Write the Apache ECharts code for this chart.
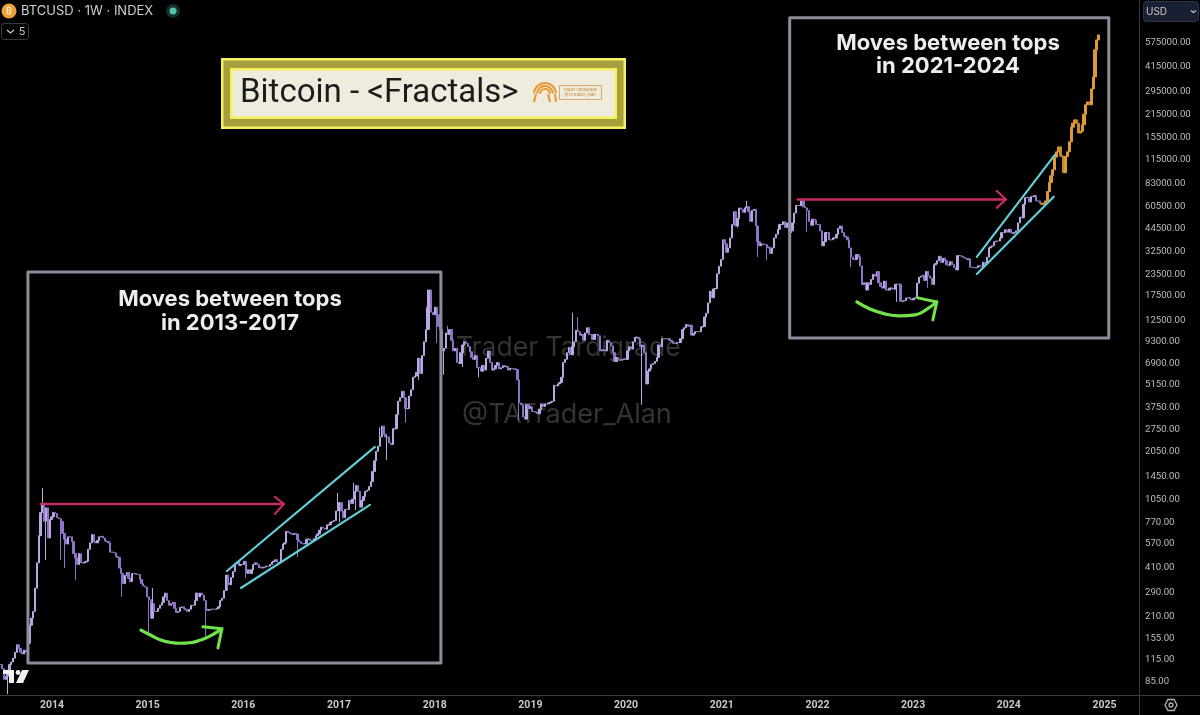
<!DOCTYPE html>
<html>
<head>
<meta charset="utf-8">
<title>BTCUSD fractals</title>
<style>
	html, body { margin: 0; padding: 0; background: #000; }
	#chart { width: 1200px; height: 715px; filter: blur(0.45px); }
</style>
<script src="https://cdn.jsdelivr.net/npm/echarts@6/dist/echarts.min.js"></script>
</head>
<body>
<div id="chart"></div>
<script>
const startYear = 2013.46;
const weekStep = 1 / 52.18;
const axisMinYear = 2013.457;
const axisMaxYear = 2025.366;

const yearTicks = [2014, 2015, 2016, 2017, 2018, 2019, 2020, 2021, 2022, 2023, 2024, 2025];
const priceTicks = [85, 115, 155, 210, 290, 410, 570, 770, 1050, 1450, 2050, 2750, 3750, 5150, 6900, 9300, 12500, 17500, 23500, 32500, 44500, 60500, 83000, 115000, 155000, 215000, 295000, 415000, 575000];

// weekly closes
const closes = [
	// 2013
	108, 102, 88, 92, 100, 108, 112, 118, 128, 142, 135, 128, 125, 132, 128, 145, 186, 205, 225, 310, 440, 640, 880, 1000, 780, 940, 620, 800,
	// 2014
	830, 880, 870, 820, 810, 780, 660, 610, 570, 630, 630, 590, 500, 470, 430, 500, 440, 440, 445, 450, 530, 580, 650, 590, 580, 600, 630, 635, 620, 595, 590, 580, 510, 510, 505, 480, 475, 410, 380, 330, 370, 385, 355, 340, 380, 380, 375, 375, 350, 330, 320, 315,
	// 2015
	275, 265, 205, 250, 225, 225, 235, 245, 255, 275, 290, 262, 245, 250, 255, 235, 222, 225, 238, 240, 233, 230, 225, 232, 245, 245, 262, 290, 275, 290, 282, 262, 232, 228, 230, 232, 232, 232, 235, 240, 262, 270, 300, 372, 335, 325, 360, 390, 435, 445, 425, 430,
	// 2016
	430, 450, 380, 400, 380, 400, 430, 440, 430, 410, 415, 410, 415, 420, 420, 430, 445, 450, 460, 445, 440, 530, 570, 580, 680, 670, 660, 650, 660, 655, 605, 590, 575, 570, 575, 610, 610, 600, 600, 615, 640, 655, 690, 720, 710, 700, 740, 745, 770, 780, 790, 900, 960,
	// 2017
	1010, 900, 820, 920, 920, 1040, 1000, 1060, 1180, 1280, 1180, 950, 1040, 1100, 1180, 1200, 1260, 1350, 1550, 1800, 2050, 2200, 2500, 2900, 2600, 2500, 2500, 2300, 2250, 2800, 2800, 3400, 4100, 4300, 4700, 4300, 3700, 3700, 4400, 4800, 5700, 5800, 6100, 7400, 6000, 7700, 9300, 11000, 15000, 19000, 14000, 13500,
	// 2018
	15000, 13500, 11500, 11000, 8200, 8500, 10500, 10300, 11000, 9500, 8200, 8500, 7000, 6900, 8000, 8900, 9300, 9100, 8700, 8100, 7500, 7300, 7700, 6500, 6500, 6200, 6700, 6300, 7400, 8200, 7000, 6300, 6400, 6700, 7000, 6400, 6500, 6700, 6600, 6600, 6300, 6450, 6400, 6400, 6350, 5500, 4000, 3900, 3300, 3200, 3900, 3700,
	// 2019
	3800, 3550, 3550, 3500, 3450, 3650, 3950, 3800, 3950, 3950, 4000, 4050, 4100, 5100, 5050, 5200, 5300, 5700, 7000, 7300, 8000, 8600, 7800, 8700, 9300, 10900, 10700, 10200, 10300, 9500, 10500, 11300, 10300, 10300, 9600, 10300, 10300, 10100, 8200, 8300, 8300, 8200, 9500, 9200, 8800, 8000, 7100, 7500, 7300, 7200, 7300, 7350,
	// 2020
	7300, 8200, 8700, 8400, 9300, 9900, 9900, 9700, 8700, 8900, 8000, 5200, 6200, 6400, 6800, 6900, 7100, 7500, 8900, 8700, 9700, 9700, 9700, 9700, 9500, 9300, 9100, 9100, 9200, 9200, 9700, 11000, 11300, 11800, 11500, 11700, 10200, 10400, 10700, 10700, 10700, 11400, 11500, 13100, 13800, 15900, 18700, 17100, 19300, 19400, 23800, 26400, 29000,
	// 2021
	38000, 36000, 32000, 34000, 39000, 47000, 56000, 46000, 51000, 59000, 58000, 55500, 59000, 60000, 56000, 49000, 57000, 58000, 46000, 37000, 35000, 36000, 35500, 35500, 34500, 34000, 31500, 34000, 39000, 41000, 44000, 47000, 47000, 48800, 45000, 48000, 42000, 43000, 48000, 55000, 61000, 61000, 61000, 65000, 60000, 59000, 57000, 49000, 46500, 50500, 50000, 47000,
	// 2022
	47000, 43000, 35000, 37000, 42000, 42000, 38000, 38000, 39000, 39000, 41000, 44500, 46000, 42000, 40000, 39500, 38000, 34000, 30000, 29000, 29000, 31000, 30000, 26500, 20500, 21000, 19000, 21000, 20500, 22000, 23600, 23000, 24500, 21000, 20000, 19500, 21500, 19000, 19000, 19500, 19500, 19200, 20600, 20600, 20600, 16300, 16300, 16400, 17000, 17100, 16800, 16600,
	// 2023
	16900, 17100, 20900, 22700, 23000, 23300, 21700, 24600, 23100, 22400, 20500, 26900, 27400, 28500, 30300, 27800, 29500, 28500, 26900, 26700, 28100, 27000, 25900, 25100, 30500, 30600, 30300, 29800, 29400, 29000, 29200, 26000, 26000, 25800, 25900, 26600, 26500, 26300, 27900, 27000, 29900, 34000, 34500, 35000, 37000, 37400, 37400, 39000, 42000, 41900, 43700, 42200,
	// 2024
	44000, 42000, 41500, 42000, 43000, 48000, 52000, 51500, 62000, 68000, 68400, 64000, 69000, 69000, 70000, 65000, 65000, 63000
];

// hand-drawn projection at the end of the chart
const projectionCloses = [62000, 63000, 65000, 74000, 84000, 92000, 100000, 119000, 128000, 137000, 121000, 120000, 96000, 120000, 128000, 147000, 180000, 190000, 199000, 190000, 166000, 170000, 186000, 215000, 245000, 255000, 245000, 305000, 360000, 524000, 600000, 643000];

// [week index, price]
const lowWicks = [[4, 72], [25, 458], [33, 458], [35, 410], [41, 348], [66, 275], [81, 168], [112, 160], [124, 300], [134, 358], [162, 477], [185, 770], [194, 912], [211, 1820], [221, 3040], [228, 5500], [234, 11000], [238, 9140], [242, 5900], [252, 6570], [261, 5700], [283, 3150], [350, 3900], [402, 45000], [413, 30000], [418, 28800], [440, 42400], [464, 26100], [489, 16130], [506, 19600]];
const highWicks = [[23, 1237], [83, 311], [184, 1155], [193, 1330], [207, 2850], [233, 19100], [244, 11600], [312, 13900], [315, 13100], [407, 65000]];

// drawings, [year, price]
const box2013 = [[2013.749, 24400], [2018.065, 24400], [2018.065, 110.5], [2013.749, 110.5], [2013.749, 24400]];
const box2021 = [[2021.71, 813600], [2025.045, 813600], [2025.045, 9810], [2021.71, 9810], [2021.71, 813600]];
const redArrow2013 = [[2013.885, 992], [2016.424, 992]];
const redHead2013 = [[2016.33, 1093], [2016.424, 992], [2016.33, 865]];
const redArrow2021 = [[2021.795, 66400], [2023.969, 66400]];
const redHead2021 = [[2023.875, 74600], [2023.969, 66400], [2023.875, 59100]];
const cyanUpper2013 = [[2015.829, 393], [2017.375, 2180]];
const cyanLower2013 = [[2015.975, 311], [2017.323, 979]];
const cyanUpper2021 = [[2023.666, 30000], [2024.481, 122800]];
const cyanLower2021 = [[2023.666, 23700], [2024.47, 68800]];
const greenArc2013 = [[2014.93, 174], [2015.024, 163], [2015.129, 152], [2015.233, 147], [2015.338, 145], [2015.442, 146], [2015.546, 151], [2015.651, 160], [2015.776, 177]];
const greenHead2013 = [[2015.578, 182], [2015.776, 177], [2015.735, 136]];
const greenArc2021 = [[2022.412, 16130], [2022.548, 14640], [2022.704, 13670], [2022.861, 13300], [2023.018, 13480], [2023.133, 14440], [2023.248, 16130]];
const greenHead2021 = [[2023.049, 17050], [2023.248, 16130], [2023.206, 12580]];

const COLOR_BOX = '#8d8c9b';
const COLOR_RED = '#c52a60';
const COLOR_CYAN = '#62cdd6';
const COLOR_GREEN = '#73e34c';
const FONT = 'Inter, Roboto, sans-serif';
const FONT_NARROW = 'Roboto, sans-serif';

function buildCandles(values, firstIndex, firstOpen) {
	let open = firstOpen;
	return values.map((close, i) => {
		const index = firstIndex + i;
		const row = [startYear + index * weekStep, open, close, Math.min(open, close), Math.max(open, close)];
		open = close;
		return row;
	});
}

const candles = buildCandles(closes, 0, closes[0]);
lowWicks.forEach(([i, p]) => { candles[i][3] = Math.min(candles[i][3], p); });
highWicks.forEach(([i, p]) => { candles[i][4] = Math.max(candles[i][4], p); });
const projection = buildCandles(projectionCloses, closes.length, closes[closes.length - 1]);

function drawing(data, color, width, smooth) {
	return {
		type: 'line',
		data: data,
		symbol: 'none',
		smooth: !!smooth,
		silent: true,
		z: 5,
		clip: false,
		lineStyle: { color: color, width: width, cap: 'round', join: 'round' },
		animation: false
	};
}

function candleSeries(data, up, down, width) {
	return {
		type: 'candlestick',
		data: data,
		encode: { x: 0, y: [1, 2, 3, 4] },
		barWidth: width,
		silent: true,
		large: false,
		progressive: 0,
		animation: false,
		z: 3,
		itemStyle: { color: up, color0: down, borderColor: up, borderColor0: down, borderWidth: 1 }
	};
}

function label(text, x, y, size, color, weight, align, z, family) {
	return {
		type: 'text',
		x: x,
		y: y,
		z: z === undefined ? 20 : z,
		silent: true,
		style: { text: text, fill: color, font: (weight || 400) + ' ' + size + 'px ' + (family || FONT), textAlign: align || 'left', textVerticalAlign: 'middle' }
	};
}

function box(x, y, w, h, fill, stroke, r) {
	return {
		type: 'rect',
		z: 15,
		silent: true,
		shape: { x: x, y: y, width: w, height: h, r: r || 0 },
		style: { fill: fill, stroke: stroke || null, lineWidth: stroke ? 1 : 0 }
	};
}

function logoArc(r) {
	return {
		type: 'arc',
		z: 16,
		silent: true,
		shape: { cx: 545, cy: 94, r: r, startAngle: Math.PI * 1.02, endAngle: Math.PI * 1.98 },
		style: { stroke: '#e5962f', fill: null, lineWidth: 2 }
	};
}

function logoLeg(x1, x2) {
	return {
		type: 'line',
		z: 16,
		silent: true,
		shape: { x1: x1, y1: 94, x2: x2, y2: 102 },
		style: { stroke: '#e5962f', lineWidth: 2 }
	};
}

const overlays = [
	// watermark
	label('Trader Tardigrade', 456, 348, 26.5, '#343434', 400, 'left', 1),
	label('@TATrader_Alan', 462, 415, 27, '#343434', 400, 'left', 1),
	// header
	{ type: 'circle', z: 15, silent: true, shape: { cx: 9, cy: 11, r: 7.5 }, style: { fill: '#eea13a' } },
	label('₿', 9, 11, 9, '#fbe3bd', 700, 'center'),
	label('BTCUSD · 1W · INDEX', 21, 11, 13, '#cfcfcf'),
	{ type: 'circle', z: 15, silent: true, shape: { cx: 173, cy: 11, r: 7 }, style: { fill: '#12302c' } },
	{ type: 'circle', z: 16, silent: true, shape: { cx: 173, cy: 11, r: 3.5 }, style: { fill: '#55c3a6' } },
	box(1.5, 23.5, 27, 16, 'transparent', '#3a3a42', 3),
	{ type: 'polyline', z: 16, silent: true, shape: { points: [[7, 30], [10.5, 33], [14, 30]] }, style: { stroke: '#c8c8c8', lineWidth: 1.3, fill: null } },
	label('5', 22, 32, 11, '#c8c8c8', 400, 'center'),
	// USD selector
	box(1143.5, 1.5, 55, 20, '#1a2034', '#2c3248', 3),
	label('USD', 1146, 12, 10, '#c8c8c8'),
	{ type: 'polyline', z: 16, silent: true, shape: { points: [[1191, 10.5], [1193.5, 12.5], [1196, 10.5]] }, style: { stroke: '#c8c8c8', lineWidth: 1.2, fill: null } },
	// title plate
	box(221, 58, 405, 71, '#f4f15e'),
	box(223.5, 60.5, 400, 66, '#a69f3c'),
	box(230, 68, 387, 51, '#f4f15e'),
	box(232.5, 70.5, 382, 46, '#efecdd'),
	label('Bitcoin - <Fractals>', 240, 94, 33, '#1c1c1c', 400, 'left', 20, FONT_NARROW),
	logoArc(11), logoArc(8), logoArc(5),
	logoLeg(536, 534), logoLeg(548, 550), logoLeg(555, 556),
	box(559.5, 85.5, 42, 14, 'transparent', '#d9a768'),
	label('Trader Tardigrade', 580, 90, 4, '#c9853a', 400, 'center'),
	label('@TATrader_Alan', 580, 95, 4, '#c9853a', 400, 'center'),
	// box captions
	label('Moves between tops', 230, 299, 22, '#ededed', 700, 'center'),
	label('in 2013-2017', 230, 323, 22, '#ededed', 700, 'center'),
	label('Moves between tops', 948, 43, 22, '#ededed', 700, 'center'),
	label('in 2021-2024', 948, 66, 22, '#ededed', 700, 'center'),
	// tradingview mark
	{ type: 'polygon', z: 17, silent: true, shape: { points: [[3, 670], [14, 670], [14, 683], [9, 683], [9, 674], [3, 674]] }, style: { fill: '#f2f2f2' } },
	{ type: 'circle', z: 17, silent: true, shape: { cx: 18, cy: 672.5, r: 2.4 }, style: { fill: '#f2f2f2' } },
	{ type: 'polygon', z: 17, silent: true, shape: { points: [[22, 670], [29, 670], [23, 683], [16, 683]] }, style: { fill: '#f2f2f2' } },
	// corner cell
	{ type: 'line', z: 2, silent: true, shape: { x1: 1139, y1: 695.5, x2: 1200, y2: 695.5 }, style: { stroke: '#3a3a3a', lineWidth: 1 } },
	{ type: 'line', z: 2, silent: true, shape: { x1: 1139.5, y1: 695, x2: 1139.5, y2: 715 }, style: { stroke: '#3a3a3a', lineWidth: 1 } },
	{ type: 'polygon', z: 16, silent: true, shape: { points: [[1165, 705], [1168, 699.5], [1174, 699.5], [1177, 705], [1174, 710.5], [1168, 710.5]] }, style: { stroke: '#b5b5b5', fill: null, lineWidth: 1.3 } },
	{ type: 'circle', z: 16, silent: true, shape: { cx: 1171, cy: 705, r: 2 }, style: { stroke: '#b5b5b5', fill: null, lineWidth: 1.3 } }
];

const chart = echarts.init(document.getElementById('chart'), null, { renderer: 'canvas' });

chart.setOption({
	backgroundColor: '#000',
	animation: false,
	grid: { left: 0, right: 60.5, top: 0, bottom: 20, containLabel: false },
	xAxis: {
		type: 'value',
		min: axisMinYear,
		max: axisMaxYear,
		splitLine: { show: false },
		axisTick: { show: false },
		axisLine: { show: true, onZero: false, lineStyle: { color: '#3a3a3a' } },
		axisLabel: {
			customValues: yearTicks,
			formatter: (v) => String(v),
			color: '#c9c9c9',
			fontFamily: FONT_NARROW,
			fontSize: 10.5,
			fontWeight: 700,
			margin: 5
		}
	},
	yAxis: {
		type: 'log',
		logBase: 10,
		position: 'right',
		min: 71,
		max: 1041000,
		splitLine: { show: false },
		axisTick: { show: false },
		axisLine: { show: true, onZero: false, lineStyle: { color: '#3a3a3a' } },
		axisLabel: {
			customValues: priceTicks,
			formatter: (v) => v.toFixed(2),
			color: '#bcbcbc',
			fontFamily: FONT_NARROW,
			fontSize: 9.6,
			margin: 5.5,
			align: 'left'
		}
	},
	series: [
		candleSeries(candles, '#b8a9df', '#8d74c6', 1.8),
		candleSeries(projection, '#dd9a34', '#c98a2c', 2.6),
		drawing(box2013, COLOR_BOX, 3),
		drawing(box2021, COLOR_BOX, 3),
		drawing(redArrow2013, COLOR_RED, 2.5),
		drawing(redHead2013, COLOR_RED, 2.2),
		drawing(redArrow2021, COLOR_RED, 2.5),
		drawing(redHead2021, COLOR_RED, 2.2),
		drawing(cyanUpper2013, COLOR_CYAN, 2.2),
		drawing(cyanLower2013, COLOR_CYAN, 2.2),
		drawing(cyanUpper2021, COLOR_CYAN, 2.2),
		drawing(cyanLower2021, COLOR_CYAN, 2.2),
		drawing(greenArc2013, COLOR_GREEN, 3.2, true),
		drawing(greenHead2013, COLOR_GREEN, 3),
		drawing(greenArc2021, COLOR_GREEN, 3.2, true),
		drawing(greenHead2021, COLOR_GREEN, 3)
	],
	graphic: { elements: overlays }
});
</script>
</body>
</html>
